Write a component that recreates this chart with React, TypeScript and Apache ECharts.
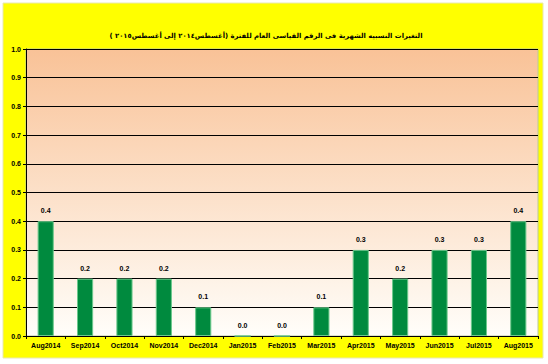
import React, { useEffect, useRef } from "react";
import * as echarts from "echarts";

const categories = ["Aug2014", "Sep2014", "Oct2014", "Nov2014", "Dec2014", "Jan2015", "Feb2015", "Mar2015", "Apr2015", "May2015", "Jun2015", "Jul2015", "Aug2015"];
const values = [0.4, 0.2, 0.2, 0.2, 0.1, 0.0, 0.0, 0.1, 0.3, 0.2, 0.3, 0.3, 0.4];
const titleText = "التغيرات النسبيه الشهرية فى الرقم القياسى العام للفترة (أغسطس٢٠١٤ إلى أغسطس٢٠١٥ )";
const yMin = 0;
const yMax = 1;
const yStep = 0.1;

export default function App() {
  const ref = useRef<HTMLDivElement>(null);
  useEffect(() => {
    document.body.style.margin = "0";
    const chart = echarts.init(ref.current!, undefined, { renderer: "svg" });
    chart.setOption({
      animation: false,
      backgroundColor: "#ffffff",
      graphic: [
        {
          type: "rect",
          z: -10,
          shape: { x: 3, y: 3, width: 540, height: 355 },
          style: { fill: "#ffff00", stroke: "#e8e8b0", lineWidth: 1 },
        },
      ],
      title: {
        text: titleText,
        left: 261,
        textAlign: "center",
        top: 27,
        textStyle: { fontFamily: "DejaVu Sans", fontWeight: "bold", fontSize: 6.8, color: "#000" },
      },
      grid: {
        left: 26,
        top: 49,
        right: 10,
        bottom: 28,
        show: true,
        borderColor: "#b8c89c",
        borderWidth: 1,
        backgroundColor: {
          type: "linear",
          x: 0,
          y: 0,
          x2: 0,
          y2: 1,
          colorStops: [
            { offset: 0, color: "#f9c297" },
            { offset: 1, color: "#fffefa" },
          ],
        },
      },
      xAxis: {
        type: "category",
        data: categories,
        axisLine: { show: true, lineStyle: { color: "#000", width: 1 } },
        axisTick: { show: true, alignWithLabel: false, length: 3, lineStyle: { color: "#000" } },
        axisLabel: { interval: 0, fontFamily: "Liberation Sans", fontWeight: "bold", fontSize: 7, color: "#000", margin: 6 },
      },
      yAxis: {
        type: "value",
        min: yMin,
        max: yMax,
        interval: yStep,
        axisLine: { show: true, lineStyle: { color: "#000", width: 1 } },
        axisTick: { show: true, length: 3, lineStyle: { color: "#000" } },
        splitLine: { show: true, lineStyle: { color: "#000", width: 1 } },
        axisLabel: {
          fontFamily: "Liberation Sans",
          fontWeight: "bold",
          fontSize: 7,
          color: "#000",
          margin: 5,
          formatter: (v: number) => v.toFixed(1),
        },
      },
      series: [
        {
          type: "bar",
          data: values,
          barWidth: "41%",
          itemStyle: { color: "#008a3e", borderColor: "#6cc98c", borderWidth: 1 },
          label: {
            show: true,
            position: "top",
            distance: 7,
            fontFamily: "Liberation Sans",
            fontWeight: "bold",
            fontSize: 7,
            color: "#000",
            formatter: (p: any) => Number(p.value).toFixed(1),
          },
        },
      ],
    });
    return () => chart.dispose();
  }, []);
  return <div ref={ref} style={{ position: "absolute", left: 0, top: 0, width: 548, height: 364 }} />;
}
